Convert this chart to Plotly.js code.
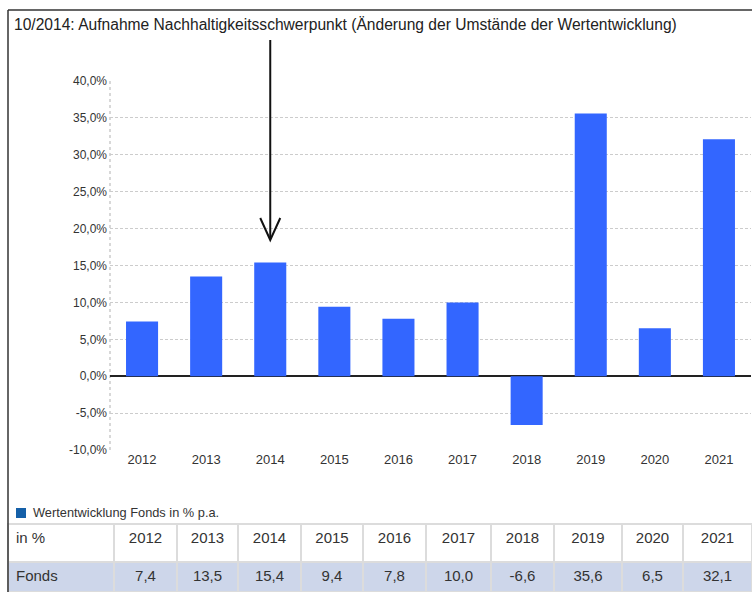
<!DOCTYPE html>
<html>
<head>
<meta charset="utf-8">
<script src="https://cdn.plot.ly/plotly-3.0.1.min.js"></script>
<style>html,body{margin:0;padding:0;background:#fff;overflow:hidden;}#chart{width:752px;height:592px;}</style>
</head>
<body>
<div id="chart"></div>
<script>
// ---- data ----
const categories = ['2012','2013','2014','2015','2016','2017','2018','2019','2020','2021'];
const fondsValues = [7.4, 13.5, 15.4, 9.4, 7.8, 10.0, -6.6, 35.6, 6.5, 32.1];
const yTickValues = [-10, -5, 0, 5, 10, 15, 20, 25, 30, 35, 40];
const seriesName = 'Wertentwicklung Fonds in % p.a.';
const rowLabel = 'Fonds';
const headerLabel = 'in %';
const chartTitle = '10/2014: Aufnahme Nachhaltigkeitsschwerpunkt (Änderung der Umstände der Wertentwicklung)';
const markedCategory = '2014';

// ---- helpers ----
const W = 752, H = 592;
const px = v => v / W;
const py = v => 1 - v / H;
const FONT = '"Liberation Sans", Arial, sans-serif';
const fmt = v => v.toFixed(1).replace('.', ',');
const markIdx = categories.indexOf(markedCategory);

const bars = {
  type: 'bar',
  x: categories,
  y: fondsValues,
  marker: {color: '#3366ff'},
  showlegend: false,
  hoverinfo: 'x+y'
};

const table = {
  type: 'table',
  domain: {x: [px(8), 1], y: [0, py(524)]},
  columnwidth: [106, 63, 61, 63, 62, 63, 65, 63, 68, 61, 69],
  header: {
    values: [headerLabel].concat(categories),
    align: ['left'].concat(categories.map(() => 'center')),
    fill: {color: '#ffffff'},
    line: {color: '#dcdcdc', width: 2},
    font: {family: FONT, size: 15, color: '#333'},
    height: 38
  },
  cells: {
    values: [[rowLabel]].concat(fondsValues.map(v => [fmt(v)])),
    align: ['left'].concat(categories.map(() => 'center')),
    fill: {color: '#cdd6ea'},
    line: {color: '#dcdcdc', width: 2},
    font: {family: FONT, size: 15, color: '#333'},
    height: 30
  }
};

const layout = {
  width: W, height: H,
  margin: {l: 0, r: 0, t: 0, b: 0},
  paper_bgcolor: '#ffffff',
  plot_bgcolor: '#ffffff',
  separators: ',.',
  font: {family: FONT, color: '#333'},
  showlegend: false,
  bargap: 0.5,
  title: {
    text: chartTitle,
    x: px(14), xanchor: 'left', xref: 'paper',
    y: py(25), yanchor: 'middle', yref: 'paper',
    font: {family: FONT, size: 15.6, color: '#222'}
  },
  xaxis: {
    domain: [px(110), px(751)],
    type: 'category',
    range: [-0.5, 9.5],
    showgrid: false,
    zeroline: false,
    ticks: '',
    tickfont: {family: FONT, size: 13, color: '#333'},
    fixedrange: true
  },
  yaxis: {
    domain: [py(450), py(81)],
    range: [-10, 40],
    tickvals: yTickValues,
    ticktext: yTickValues.map(v => fmt(v) + '%'),
    showgrid: true,
    gridcolor: '#cccccc',
    griddash: '3px,2px',
    gridwidth: 1,
    zeroline: true,
    zerolinecolor: '#222',
    zerolinewidth: 1.5,
    ticks: '',
    ticklabelstandoff: 2,
    tickfont: {family: FONT, size: 12, color: '#333'},
    fixedrange: true
  },
  shapes: [
    // outer frame (top and left)
    {type: 'line', xref: 'paper', yref: 'paper', x0: px(8), x1: 1, y0: py(10), y1: py(10), line: {color: '#333', width: 1.5}},
    {type: 'line', xref: 'paper', yref: 'paper', x0: px(8), x1: px(8), y0: py(10), y1: 0, line: {color: '#333', width: 1.5}},
    // dotted y axis line
    {type: 'line', xref: 'paper', yref: 'y', x0: px(110), x1: px(110), y0: -10, y1: 40, line: {color: '#cccccc', width: 1.5, dash: 'dot'}, layer: 'below'},
    // arrow shaft
    {type: 'line', xref: 'x', yref: 'paper', x0: markIdx, x1: markIdx, y0: py(40), y1: py(239), line: {color: '#111', width: 2}},
    // arrow head (open V)
    {type: 'path', xref: 'x', yref: 'paper', xsizemode: 'pixel', ysizemode: 'pixel', xanchor: markIdx, yanchor: py(240),
     path: 'M-10,22 L0,0 L10,22', line: {color: '#111', width: 2}},
    // legend square
    {type: 'rect', xref: 'paper', yref: 'paper', x0: px(16), x1: px(26), y0: py(518), y1: py(508), fillcolor: '#1560a8', line: {width: 0}}
  ],
  annotations: [
    // legend text
    {xref: 'paper', yref: 'paper', x: px(31), y: py(512), xanchor: 'left', yanchor: 'middle', text: seriesName, showarrow: false, font: {family: FONT, size: 12.8, color: '#333'}}
  ]
};

Plotly.newPlot('chart', [bars, table], layout, {displayModeBar: false, staticPlot: true});
</script>
</body>
</html>
